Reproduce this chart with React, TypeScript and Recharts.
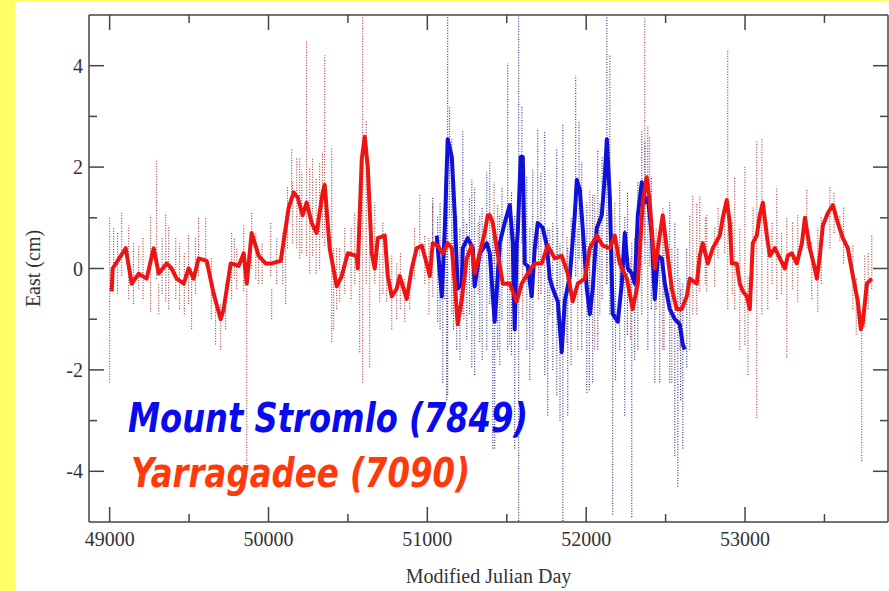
import { LineChart, Line, XAxis, YAxis, ErrorBar } from 'recharts';

// Yarragadee (7090) smoothed east component
const redDays = [
  49013, 49019, 49101, 49139, 49183, 49233, 49277, 49309, 49359, 49390,
  49422, 49466, 49497, 49529, 49560, 49611, 49655, 49699, 49718, 49762,
  49812, 49844, 49863, 49894, 49938, 49982, 50020, 50077, 50127, 50159,
  50184, 50215, 50240, 50272, 50303, 50341, 50354, 50385, 50429, 50461,
  50499, 50555, 50562, 50587, 50606, 50625, 50650, 50669, 50688, 50732,
  50751, 50776, 50807, 50826, 50870, 50902, 50933, 50965, 50996, 51015,
  51034, 51065, 51097, 51128, 51154, 51173, 51191, 51217, 51248, 51280,
  51298, 51330, 51361, 51380, 51393, 51412, 51437, 51475, 51519, 51563,
  51594, 51632, 51676, 51720, 51758, 51802, 51846, 51884, 51915, 51947,
  51991, 52023, 52067, 52104, 52149, 52180, 52211, 52256, 52293, 52325,
  52356, 52381, 52400, 52432, 52463, 52482, 52507, 52539, 52570, 52602,
  52633, 52652, 52696, 52715, 52734, 52766, 52797, 52841, 52860, 52885,
  52904, 52917, 52948, 52967, 52986, 53011, 53030, 53049, 53074, 53093,
  53112, 53137, 53156, 53188, 53219, 53251, 53269, 53295, 53326, 53358,
  53377, 53408, 53439, 53452, 53471, 53490, 53522, 53553, 53584, 53616,
  53647, 53679, 53710, 53729, 53742, 53767, 53798,
];
const redValues = [
  -0.45, 0, 0.4, -0.3, -0.1, -0.2, 0.4, -0.1, 0.1, 0,
  -0.2, -0.3, 0, -0.2, 0.2, 0.15, -0.5, -1.0, -0.8, 0.1,
  0.05, 0.3, -0.3, 0.7, 0.25, 0.1, 0.1, 0.15, 1.2, 1.5,
  1.4, 1.05, 1.3, 0.9, 0.7, 1.5, 1.65, 0.4, -0.35, -0.15,
  0.3, 0.25, 0, 2.15, 2.6, 2.0, 0.3, 0, 0.6, 0.65,
  -0.15, -0.55, -0.4, -0.15, -0.6, 0, 0.4, 0.45, 0.1, -0.15,
  0.5, 0.45, 0.3, 0.5, 0.4, -0.3, -1.1, -0.6, 0.2, 0.45,
  -0.1, 0.3, 0.7, 1.05, 1.05, 0.9, 0.4, -0.3, -0.3, -0.65,
  -0.3, -0.1, 0.1, 0.1, 0.45, 0.2, 0.25, -0.1, -0.65, -0.3,
  -0.2, 0.4, 0.65, 0.45, 0.4, 0.65, 0.1, -0.2, -0.8, -0.3,
  1.3, 1.8, 1.3, 0, 0.65, 1.05, 0.4, -0.4, -0.8, -0.8,
  -0.55, -0.2, -0.3, 0.25, 0.5, 0.1, 0.4, 0.65, 1.0, 1.35,
  0.9, 0.1, 0.1, -0.3, -0.45, -0.55, -0.8, 0.5, 0.65, 1.05,
  1.3, 0.65, 0.25, 0.4, 0.2, 0, 0.25, 0.3, 0.1, 0.5,
  1.0, 0.4, 0, -0.2, 0.25, 0.85, 1.1, 1.25, 0.9, 0.6,
  0.4, -0.15, -0.65, -1.2, -1.05, -0.3, -0.2,
];

// Mount Stromlo (7849) smoothed east component
const blueDays = [
  51059, 51091, 51110, 51128, 51154, 51173, 51191, 51217, 51223, 51254,
  51286, 51298, 51330, 51374, 51393, 51424, 51437, 51456, 51487, 51519,
  51538, 51550, 51563, 51569, 51588, 51601, 51613, 51632, 51657, 51676,
  51695, 51727, 51752, 51771, 51790, 51821, 51846, 51865, 51897, 51928,
  51941, 51960, 51978, 52004, 52023, 52041, 52067, 52098, 52117, 52130,
  52149, 52167, 52199, 52224, 52243, 52262, 52287, 52306, 52325, 52350,
  52369, 52388, 52413, 52432, 52451, 52476, 52495, 52526, 52558, 52589,
  52608, 52621,
];
const blueValues = [
  0.65, -0.55, 0.8, 2.55, 2.2, 1.05, -0.4, -0.3, 0.4, 0.6,
  0.4, -0.35, 0.3, 0.5, 0.3, -1.05, -0.45, 0.5, 0.9, 1.25,
  0.5, -1.2, 0.5, 0.7, 2.2, 2.2, 0.1, 0.05, -0.55, 0.4,
  0.9, 0.8, 0.45, -0.2, -0.4, -0.65, -1.65, -0.65, -0.15, 1.05,
  1.75, 1.55, 0.8, -0.4, -0.9, -0.4, 0.8, 1.05, 1.8, 2.55,
  1.4, -0.9, -1.05, -0.3, 0.7, 0, -0.1, -0.3, 1.05, 1.7,
  1.3, 1.4, 0.65, -0.6, 0.25, 0.2, -0.3, -0.8, -1.0, -1.1,
  -1.5, -1.6,
];

// raw scatter (dotted spikes): day, top, bottom
const redSpikeDays = [
  49000, 49025, 49050, 49076, 49120, 49150, 49183, 49210, 49258, 49296,
  49309, 49330, 49353, 49372, 49416, 49440, 49470, 49497, 49516, 49540,
  49560, 49605, 49640, 49667, 49699, 49730, 49768, 49785, 49800, 49844,
  49863, 49894, 49920, 49938, 49960, 50014, 50020, 50052, 50090, 50108,
  50120, 50146, 50152, 50178, 50196, 50210, 50240, 50260, 50278, 50300,
  50322, 50340, 50354, 50398, 50410, 50429, 50448, 50480, 50520, 50543,
  50574, 50593, 50615, 50637, 50669, 50700, 50720, 50744, 50776, 50807,
  50830, 50858, 50889, 50920, 50952, 50984, 51010, 51034, 51230, 51320,
  51420, 51519, 51600, 51700, 51771, 51820, 51878, 51947, 52023, 52054,
  52086, 52130, 52180, 52280, 52369, 52400, 52440, 52482, 52539, 52590,
  52652, 52671, 52696, 52715, 52750, 52759, 52809, 52830, 52872, 52891,
  52920, 52935, 52967, 52999, 53018, 53050, 53074, 53106, 53143, 53170,
  53200, 53230, 53263, 53300, 53332, 53389, 53420, 53458, 53480, 53534,
  53560, 53597, 53620, 53679, 53700, 53735, 53754, 53775, 53798,
];
const redSpikeHigh = [
  1.0, 0.8, 0.7, 1.1, 0.85, 0.5, 0.45, 0.6, 1.05, 2.15,
  -0.3, 0.6, 1.1, 0.85, 0.6, 0.5, 0.3, 0.65, 0, 0.6,
  1.0, 1.0, 0.2, -0.5, -0.7, -0.3, 0.7, 0.6, 0.4, 0.85,
  -0.4, 1.1, 0.7, 0.4, 0.5, 0.9, -0.4, 0.6, 0.7, 0.8,
  1.6, 2.35, 1.7, 2.2, 2.2, 1.9, 4.5, 2.0, 2.2, 1.8,
  2.1, 2.3, 4.2, 2.4, 0.4, 0.4, 0.4, 0.8, 0.8, 1.1,
  1.2, 4.95, 2.9, 1.45, 1.3, 0.3, 0.9, 0.5, 0.25, 0.1,
  0.3, -0.2, -0.2, 0.8, 1.45, 0.65, 0.6, 1.3, 1.0, 0.9,
  1.7, 1.1, 0.4, 0.7, 0.8, 0.8, 0.65, 0.8, 1.55, 1.45,
  1.3, 1.1, 1.3, 0.2, 4.95, 2.6, 0.8, 1.2, 0.4, -0.2,
  1.05, 1.45, 1.3, 1.45, 1.0, 1.05, 0.8, 1.2, 1.1, 4.3,
  0.9, 1.8, 0.8, 2.0, -0.15, 1.2, 2.5, 2.55, 0.9, 0.9,
  1.6, 0.7, 1.0, 0.9, 1.05, 1.55, 0.5, 0.8, 1.0, 1.6,
  1.5, 1.05, 1.2, 0.45, -0.2, -1.2, 0.25, 0.3, 0.65,
];
const redSpikeLow = [
  -2.25, -0.3, -0.5, -0.15, -0.6, -0.7, -0.4, -0.6, -0.85, -0.2,
  -0.9, -0.5, -0.65, -0.8, -0.6, -0.8, -0.9, -0.7, -1.2, -0.5,
  -0.15, 0.05, -1.0, -1.5, -1.6, -1.2, -0.6, -0.2, -0.4, -0.45,
  -3.9, 0, -0.2, -0.3, -0.3, -0.15, -1.0, -0.3, -0.3, -0.7,
  0.4, 1.3, 0.5, 0.4, 0.2, 0.3, 0.25, -0.1, 0.25, -0.1,
  0, 0.6, 0.45, -1.45, -1.2, -0.8, -0.65, -0.5, -0.6, -0.3,
  -1.65, -2.25, -0.3, -1.95, -0.3, -0.65, -0.5, -0.65, -1.2, -1.0,
  -0.8, -1.05, -0.8, -0.2, 0.25, -0.3, -0.9, -0.55, -1.0, -0.5,
  0.1, -1.5, -1.0, -0.6, -0.9, -0.4, -1.45, -1.6, -0.4, -1.6,
  -0.9, -0.3, 0.1, -1.4, 0.5, 0.05, -0.8, -1.6, -2.25, -1.6,
  -1.6, -0.9, -0.9, -0.45, -0.3, -0.45, -0.35, 0.2, 0.3, -0.8,
  -0.5, -0.8, -1.6, -1.5, -2.1, -0.2, -2.95, -0.9, -0.8, -0.3,
  -0.6, -0.5, -1.75, -0.4, -0.65, 0.4, -0.6, -0.85, -0.3, 0.4,
  0.7, 0.55, 0.1, -0.8, -1.3, -3.8, -1.15, -0.8, -0.4,
];

const blueSpikeDays = [
  51034, 51065, 51080, 51097, 51110, 51122, 51128, 51140, 51154, 51165,
  51185, 51205, 51223, 51248, 51265, 51280, 51298, 51330, 51345, 51374,
  51393, 51412, 51424, 51443, 51456, 51470, 51506, 51530, 51550, 51575,
  51595, 51626, 51645, 51664, 51695, 51715, 51739, 51758, 51790, 51815,
  51835, 51853, 51884, 51905, 51934, 51955, 51972, 52004, 52020, 52041,
  52073, 52100, 52130, 52149, 52167, 52185, 52211, 52243, 52260, 52287,
  52305, 52325, 52350, 52370, 52388, 52410, 52432, 52463, 52490, 52526,
  52558, 52577, 52595, 52608, 52633,
];
const blueSpikeHigh = [
  1.4, 1.05, 1.3, 0.45, 1.8, 2.15, 4.98, 3.2, 2.55, 2.0,
  1.05, 0.8, 2.7, 0.9, 1.4, 1.75, 1.6, 1.05, 1.2, 1.9,
  2.1, 0.7, 0.4, 1.25, 1.05, 1.6, 4.05, 1.5, 1.05, 4.98,
  3.2, 1.8, 0.8, 1.95, 2.75, 1.9, 2.7, 0.8, 0.9, 2.35,
  0.5, 2.85, 0.4, 1.0, 3.8, 2.9, 2.1, 1.3, 0.5, 1.45,
  2.35, 2.2, 4.98, 4.2, 0.4, 0.3, 1.7, 1.05, 1.5, 0.5,
  0.6, 1.7, 2.7, 2.5, 2.8, 1.8, 0.4, 0.65, 0.9, 1.3,
  0.9, 0.4, -0.4, -0.3, 0.4,
];
const blueSpikeLow = [
  0.5, -1.05, -1.2, -2.25, -0.6, -2.6, -2.5, 1.0, -0.9, -1.2,
  -1.6, -1.8, -0.9, -1.4, -0.9, -1.95, -2.1, -1.45, -1.8, -1.6,
  -0.7, -3.55, -3.55, -1.6, -1.9, -1.0, -1.6, -1.7, -3.55, -4.98,
  0.5, -1.6, -2.2, -1.6, 0.4, -0.5, -2.1, -2.9, -2.0, -2.5,
  -3.0, -4.98, -2.9, -1.9, -0.15, 0.2, -1.6, -2.45, -2.4, -2.25,
  -1.6, -0.6, -0.3, -0.9, -4.85, -2.2, -1.6, -2.9, -1.3, -4.9,
  -1.8, -1.6, -0.9, 0.1, -1.6, -0.8, -2.25, -2.25, -1.6, -2.25,
  -3.7, -4.3, -2.6, -3.55, -1.95,
];

const xTicks = [49000, 49500, 50000, 50500, 51000, 51500, 52000, 52500, 53000, 53500];
const yTicks = [-4, -3, -2, -1, 0, 1, 2, 3, 4];

const AXIS = '#454545';
const TEXT = '#333333';
const SERIF = '"Liberation Serif", "Times New Roman", serif';

const redLine = redDays.map((day, i) => ({ day, east: redValues[i] }));
const blueLine = blueDays.map((day, i) => ({ day, east: blueValues[i] }));
const redSpikes = redSpikeDays.map((day, i) => ({
  day,
  low: redSpikeLow[i],
  span: [0, redSpikeHigh[i] - redSpikeLow[i]],
}));
const blueSpikes = blueSpikeDays.map((day, i) => ({
  day,
  low: blueSpikeLow[i],
  span: [0, blueSpikeHigh[i] - blueSpikeLow[i]],
}));

const isMajorX = (v: number) => v % 1000 === 0;
const isMajorY = (v: number) => v % 2 === 0;

function BottomTick({ x, y, payload }: any) {
  const major = isMajorX(payload.value);
  return (
    <g>
      <line x1={x} y1={y} x2={x} y2={y - (major ? 15 : 8)} stroke={AXIS} strokeWidth={1.5} />
      {major && (
        <text x={x} y={y + 24} textAnchor="middle" fontFamily={SERIF} fontSize={20} fill={TEXT}>
          {payload.value}
        </text>
      )}
    </g>
  );
}

function TopTick({ x, y, payload }: any) {
  const major = isMajorX(payload.value);
  return <line x1={x} y1={y} x2={x} y2={y + (major ? 15 : 8)} stroke={AXIS} strokeWidth={1.5} />;
}

function LeftTick({ x, y, payload }: any) {
  const major = isMajorY(payload.value);
  return (
    <g>
      <line x1={x} y1={y} x2={x + (major ? 15 : 8)} y2={y} stroke={AXIS} strokeWidth={1.5} />
      {major && (
        <text x={x - 6} y={y} dy="0.35em" textAnchor="end" fontFamily={SERIF} fontSize={20} fill={TEXT}>
          {payload.value}
        </text>
      )}
    </g>
  );
}

function RightTick({ x, y, payload }: any) {
  const major = isMajorY(payload.value);
  return <line x1={x} y1={y} x2={x - (major ? 15 : 8)} y2={y} stroke={AXIS} strokeWidth={1.5} />;
}

export default function App() {
  const axisLine = { stroke: AXIS, strokeWidth: 1.5 };
  return (
    <div style={{ position: 'fixed', left: 0, top: 0, width: 889, height: 591, background: '#ffff66' }}>
      <div style={{ position: 'absolute', left: 15, top: 2, right: 0, bottom: 0, background: '#ffffff' }} />
      <div style={{ position: 'absolute', left: 0, top: 0 }}>
        <LineChart width={889} height={591} margin={{ top: 0, right: 0, bottom: 0, left: 0 }}>
          <XAxis
            xAxisId="b"
            dataKey="day"
            type="number"
            domain={[48870, 53900]}
            allowDataOverflow
            ticks={xTicks}
            interval={0}
            height={69}
            tickSize={0}
            tickMargin={0}
            tickLine={false}
            axisLine={axisLine}
            tick={<BottomTick />}
            label={{
              value: 'Modified Julian Day',
              position: 'insideBottom',
              offset: 8,
              fontFamily: SERIF,
              fontSize: 20,
              fill: TEXT,
            }}
          />
          <XAxis
            xAxisId="t"
            orientation="top"
            dataKey="day"
            type="number"
            domain={[48870, 53900]}
            allowDataOverflow
            ticks={xTicks}
            interval={0}
            height={15}
            tickSize={0}
            tickMargin={0}
            tickLine={false}
            axisLine={axisLine}
            tick={<TopTick />}
          />
          <YAxis
            yAxisId="l"
            type="number"
            domain={[-5, 5]}
            allowDataOverflow
            ticks={yTicks}
            interval={0}
            width={89}
            tickSize={0}
            tickMargin={0}
            tickLine={false}
            axisLine={axisLine}
            tick={<LeftTick />}
            label={{
              value: 'East (cm)',
              angle: -90,
              position: 'insideLeft',
              offset: 33,
              textAnchor: 'middle',
              fontFamily: SERIF,
              fontSize: 20,
              fill: TEXT,
            }}
          />
          <YAxis
            yAxisId="r"
            orientation="right"
            type="number"
            domain={[-5, 5]}
            allowDataOverflow
            ticks={yTicks}
            interval={0}
            width={1}
            tickSize={0}
            tickMargin={0}
            tickLine={false}
            axisLine={axisLine}
            tick={<RightTick />}
          />

          <Line
            data={redSpikes}
            dataKey="low"
            xAxisId="b"
            yAxisId="l"
            stroke="none"
            dot={false}
            activeDot={false}
            legendType="none"
            isAnimationActive={false}
          >
            <ErrorBar
              dataKey="span"
              direction="y"
              width={0}
              stroke="#a83232"
              strokeWidth={1.1}
              strokeDasharray="1 1.6"
              isAnimationActive={false}
            />
          </Line>
          <Line
            data={blueSpikes}
            dataKey="low"
            xAxisId="b"
            yAxisId="l"
            stroke="none"
            dot={false}
            activeDot={false}
            legendType="none"
            isAnimationActive={false}
          >
            <ErrorBar
              dataKey="span"
              direction="y"
              width={0}
              stroke="#26267a"
              strokeWidth={1.1}
              strokeDasharray="1 1.6"
              isAnimationActive={false}
            />
          </Line>

          <Line
            data={blueLine}
            dataKey="east"
            xAxisId="b"
            yAxisId="l"
            type="linear"
            stroke="#1010d8"
            strokeWidth={4}
            strokeLinejoin="round"
            dot={false}
            activeDot={false}
            isAnimationActive={false}
          />
          <Line
            data={redLine}
            dataKey="east"
            xAxisId="b"
            yAxisId="l"
            type="linear"
            stroke="#ee1414"
            strokeWidth={4}
            strokeLinejoin="round"
            dot={false}
            activeDot={false}
            isAnimationActive={false}
          />
        </LineChart>
      </div>

      {/* station labels */}
      <svg width={889} height={591} style={{ position: 'absolute', left: 0, top: 0, pointerEvents: 'none' }}>
        <text
          x={128}
          y={432}
          fontFamily='"DejaVu Sans", sans-serif'
          fontWeight="bold"
          fontStyle="italic"
          fontSize={41}
          fill="#0a0af0"
          textLength={400}
          lengthAdjust="spacingAndGlyphs"
        >
          Mount Stromlo (7849)
        </text>
        <text
          x={131}
          y={487}
          fontFamily='"DejaVu Sans", sans-serif'
          fontWeight="bold"
          fontStyle="italic"
          fontSize={41}
          fill="#ff3a0a"
          textLength={339}
          lengthAdjust="spacingAndGlyphs"
        >
          Yarragadee (7090)
        </text>
      </svg>
    </div>
  );
}
